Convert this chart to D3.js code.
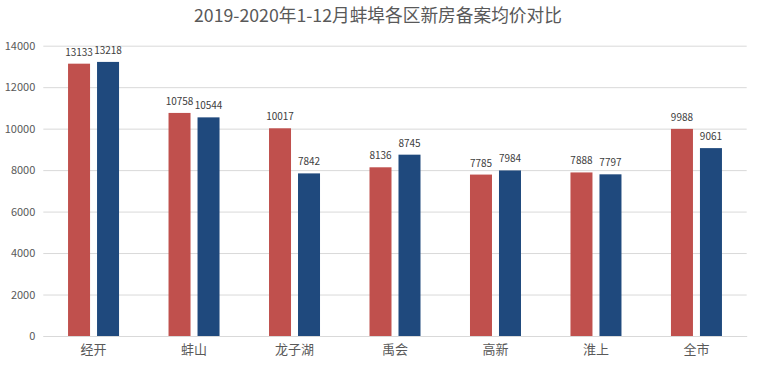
<!DOCTYPE html>
<html><head><meta charset="utf-8">
<script src="https://cdn.jsdelivr.net/npm/d3@7/dist/d3.min.js"></script>
<style>body{margin:0;background:#fff}svg{display:block}</style>
</head><body>
<svg id="c" width="760" height="367"></svg>
<script>
const title = "2019-2020年1-12月蚌埠各区新房备案均价对比";
const categories = ["经开","蚌山","龙子湖","禹会","高新","淮上","全市"];
const series2019 = [13133,10758,10017,8136,7785,7888,9988];
const series2020 = [13218,10544,7842,8745,7984,7797,9061];
const yTicks = [0,2000,4000,6000,8000,10000,12000,14000];
const seriesNames = ["2019","2020"];
const colors = ["#C0504D","#1F497D"];

const svg = d3.select("#c");
const font = "'Noto Sans CJK SC','Noto Sans',sans-serif";
const m = {left:43.3, right:746.7, top:45.7, bottom:336};
const x = d3.scaleBand().domain(categories).range([m.left, m.right]);
const y = d3.scaleLinear().domain([0,14000]).range([m.bottom, m.top]);

svg.append("text").attr("x",378).attr("y",22).attr("text-anchor","middle")
  .attr("font-family",font).attr("font-size",17.7).attr("fill","#595959").text(title);

// grid
const yAxis = d3.axisLeft(y).tickValues(yTicks).tickSize(-(m.right-m.left)).tickPadding(8).tickFormat(d3.format("d"));
const gy = svg.append("g").attr("transform",`translate(${m.left},0)`).call(yAxis);
gy.select(".domain").remove();
gy.selectAll(".tick line").attr("stroke","#D9D9D9").attr("stroke-width",1);
gy.selectAll(".tick text").attr("font-family",font).attr("font-size",11).attr("fill","#595959");

// x axis
const xAxis = d3.axisBottom(x).tickSize(0).tickPadding(9);
const gx = svg.append("g").attr("transform",`translate(0,${m.bottom})`).call(xAxis);
gx.select(".domain").attr("stroke","#D9D9D9");
gx.selectAll(".tick text").attr("font-family",font).attr("font-size",13).attr("fill","#595959");

const barW = 22, gap = 7;
const sub = d3.scaleOrdinal().domain(seriesNames).range([-(gap/2+barW), gap/2]);
const data = [];
categories.forEach((c,i)=>{
  data.push({c, s:"2019", v:series2019[i]});
  data.push({c, s:"2020", v:series2020[i]});
});
const cx = d => x(d.c) + x.bandwidth()/2 + sub(d.s);
svg.append("g").selectAll("rect").data(data).join("rect")
  .attr("x", cx).attr("y", d=>y(d.v)).attr("width", barW)
  .attr("height", d=>y(0)-y(d.v))
  .attr("fill", d=> d.s==="2019"?colors[0]:colors[1]);
svg.append("g").selectAll("text").data(data).join("text")
  .attr("x", d=>cx(d)+barW/2).attr("y", d=>y(d.v)-8)
  .attr("text-anchor","middle").attr("font-family",font).attr("font-size",10)
  .attr("fill","#404040").text(d=>d.v);
</script>
</body></html>
